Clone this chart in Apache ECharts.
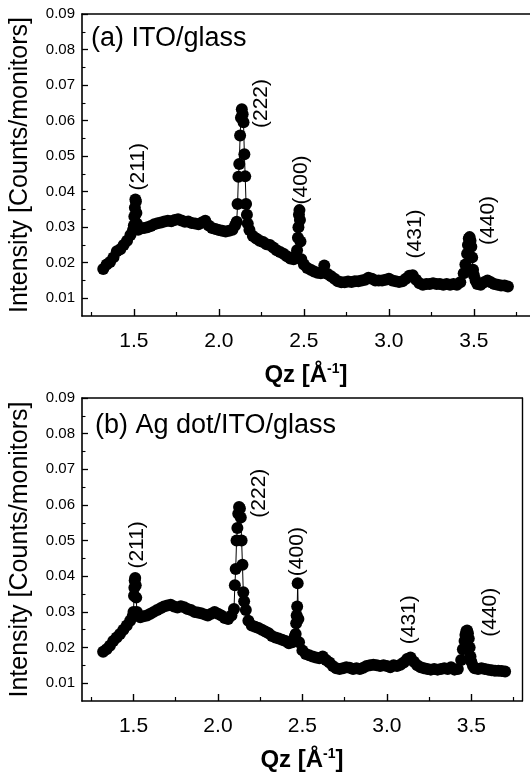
<!DOCTYPE html>
<html>
<head>
<meta charset="utf-8">
<script src="https://cdn.jsdelivr.net/npm/echarts@6/dist/echarts.min.js"></script>
<style>html,body{margin:0;padding:0;background:#fff}#c{width:530px;height:774px}</style>
</head>
<body>
<div id="c"></div>
<script>
// ---------- data: panel (a) ITO/glass ----------
const qzA = [1.32,1.34,1.36,1.38,1.40,1.42,1.44,1.46,1.48,1.495,
  1.50,1.503,1.506,1.509,1.512,1.515,1.518,1.525,
  1.54,1.56,1.58,1.60,1.62,1.64,1.66,1.68,1.70,1.72,1.74,1.76,1.78,1.80,1.82,1.84,1.86,1.88,1.90,1.92,1.94,1.96,1.98,2.00,2.02,2.04,2.06,2.08,2.095,2.105,
  2.11,2.115,2.12,2.125,2.13,2.135,2.14,2.145,2.15,2.155,2.16,2.165,2.17,
  2.18,2.20,2.22,2.24,2.26,2.28,2.30,2.32,2.34,2.36,2.38,2.40,2.42,2.44,2.455,
  2.46,2.465,2.468,2.471,2.474,2.477,2.48,2.485,
  2.50,2.52,2.54,2.56,2.58,2.60,2.62,2.64,2.66,2.68,2.70,2.72,2.74,2.76,2.78,2.80,2.82,2.84,2.86,2.88,2.90,2.92,2.94,2.96,2.98,3.00,3.02,3.04,3.06,3.08,3.10,3.12,3.14,3.16,3.18,3.20,3.22,3.24,3.26,3.28,3.30,3.32,3.34,3.36,3.38,3.40,3.42,3.44,
  3.45,3.46,3.465,3.47,3.475,3.48,3.485,3.49,3.495,3.50,3.51,3.52,3.54,3.56,3.58,3.60,3.62,3.64,3.66,3.68,3.70];
const intA = [0.0182,0.0195,0.0202,0.0215,0.0232,0.0238,0.0250,0.0262,0.0278,0.0292,
  0.0305,0.0330,0.0355,0.0378,0.0372,0.0340,0.0310,0.0293,
  0.0296,0.0298,0.0300,0.0303,0.0308,0.0311,0.0313,0.0316,0.0318,0.0317,0.0320,0.0322,0.0319,0.0315,0.0316,0.0312,0.0310,0.0308,0.0313,0.0318,0.0305,0.0298,0.0295,0.0292,0.0290,0.0288,0.0290,0.0293,0.0305,0.0315,
  0.0365,0.0442,0.0478,0.0558,0.0608,0.0632,0.0618,0.0595,0.0505,0.0443,0.0365,0.0335,0.0310,
  0.0292,0.0275,0.0268,0.0262,0.0258,0.0252,0.0250,0.0243,0.0235,0.0230,0.0225,0.0218,0.0212,0.0210,0.0222,
  0.0235,0.0270,0.0300,0.0335,0.0348,0.0320,0.0260,0.0210,
  0.0195,0.0185,0.0180,0.0175,0.0172,0.0170,0.0192,0.0168,0.0162,0.0155,0.0148,0.0145,0.0145,0.0147,0.0146,0.0148,0.0148,0.0150,0.0152,0.0158,0.0155,0.0150,0.0150,0.0150,0.0152,0.0155,0.0150,0.0148,0.0146,0.0148,0.0155,0.0163,0.0165,0.0152,0.0142,0.0138,0.0140,0.0140,0.0142,0.0140,0.0140,0.0138,0.0140,0.0138,0.0140,0.0138,0.0145,0.0170,
  0.0195,0.0225,0.0250,0.0268,0.0272,0.0262,0.0245,0.0215,0.0180,0.0165,0.0150,0.0140,0.0138,0.0145,0.0150,0.0145,0.0140,0.0138,0.0136,0.0136,0.0133];

// ---------- data: panel (b) Ag dot/ITO/glass ----------
const qzB = [1.32,1.34,1.36,1.38,1.40,1.42,1.44,1.46,1.48,1.495,
  1.50,1.503,1.505,1.507,1.51,1.513,1.516,1.52,
  1.54,1.56,1.58,1.60,1.62,1.64,1.66,1.68,1.70,1.72,1.74,1.76,1.78,1.80,1.82,1.84,1.86,1.88,1.90,1.92,1.94,1.96,1.98,2.00,2.02,2.04,2.06,2.08,2.095,
  2.10,2.105,2.11,2.115,2.12,2.125,2.13,2.135,2.14,2.145,2.15,2.155,2.165,
  2.18,2.20,2.22,2.24,2.26,2.28,2.30,2.32,2.34,2.36,2.38,2.40,2.42,2.44,2.455,
  2.46,2.463,2.466,2.469,2.472,2.476,2.48,
  2.50,2.52,2.54,2.56,2.58,2.60,2.62,2.64,2.66,2.68,2.70,2.72,2.74,2.76,2.78,2.80,2.82,2.84,2.86,2.88,2.90,2.92,2.94,2.96,2.98,3.00,3.02,3.04,3.06,3.08,3.10,3.12,3.14,3.16,3.18,3.20,3.22,3.24,3.26,3.28,3.30,3.32,3.34,3.36,3.38,3.40,3.42,3.44,
  3.45,3.46,3.465,3.47,3.475,3.48,3.485,3.49,3.495,3.50,3.51,3.52,3.54,3.56,3.58,3.60,3.62,3.64,3.66,3.68,3.70];
const intB = [0.0188,0.0195,0.0205,0.0218,0.0228,0.0238,0.0250,0.0262,0.0275,0.0288,
  0.0300,0.0345,0.0368,0.0388,0.0395,0.0375,0.0340,0.0300,
  0.0285,0.0288,0.0290,0.0295,0.0300,0.0305,0.0310,0.0315,0.0318,0.0320,0.0315,0.0312,0.0316,0.0313,0.0308,0.0305,0.0300,0.0298,0.0296,0.0293,0.0290,0.0295,0.0300,0.0295,0.0290,0.0283,0.0280,0.0290,0.0308,
  0.0375,0.0420,0.0500,0.0535,0.0575,0.0594,0.0590,0.0565,0.0500,0.0432,0.0355,0.0330,0.0305,
  0.0275,0.0262,0.0258,0.0255,0.0250,0.0245,0.0240,0.0232,0.0228,0.0225,0.0222,0.0218,0.0212,0.0215,0.0232,
  0.0238,0.0268,0.0290,0.0315,0.0380,0.0280,0.0215,
  0.0192,0.0182,0.0178,0.0175,0.0172,0.0170,0.0175,0.0165,0.0158,0.0148,0.0142,0.0140,0.0142,0.0145,0.0143,0.0140,0.0142,0.0140,0.0143,0.0148,0.0150,0.0152,0.0150,0.0148,0.0150,0.0148,0.0145,0.0150,0.0148,0.0152,0.0158,0.0168,0.0172,0.0160,0.0150,0.0145,0.0142,0.0140,0.0138,0.0140,0.0138,0.0140,0.0142,0.0140,0.0145,0.0138,0.0140,0.0165,
  0.0195,0.0218,0.0235,0.0245,0.0248,0.0240,0.0225,0.0200,0.0175,0.0160,0.0148,0.0142,0.0140,0.0142,0.0140,0.0138,0.0136,0.0135,0.0135,0.0134,0.0133];

// ---------- peak annotations ----------
const peakNames = ['(211)','(222)','(400)','(431)','(440)'];
const peakLabelQzA = [1.525, 2.251, 2.486, 3.153, 3.584];
const peakLabelIntA = [0.047, 0.0648, 0.0433, 0.0281, 0.0319];
const peakLabelQzB = [1.524, 2.242, 2.469, 3.134, 3.610];
const peakLabelIntB = [0.0488, 0.0633, 0.0469, 0.0278, 0.0299];

// ---------- ticks ----------
const xMajor = [1.5, 2.0, 2.5, 3.0, 3.5];
const xMinor = [1.25, 1.75, 2.25, 2.75, 3.25, 3.75];
const yMajor = [0.01, 0.02, 0.03, 0.04, 0.05, 0.06, 0.07, 0.08, 0.09];
const yMinor = [0.015, 0.025, 0.035, 0.045, 0.055, 0.065, 0.075, 0.085];

const FONT = "'Liberation Sans', Arial, sans-serif";
const BLK = '#000';

function pairs(xs, ys) { return xs.map((x, i) => [x, ys[i]]); }

function xMain(grid, min, max) {
  return {
    type: 'value', gridIndex: grid, min: min, max: max, position: 'bottom',
    axisLine: { show: true, onZero: false, lineStyle: { color: BLK, width: 1.6 } },
    axisTick: { show: true, inside: true, length: 7, customValues: xMajor, lineStyle: { color: BLK, width: 1.4 } },
    axisLabel: { show: true, customValues: xMajor, margin: 15, fontSize: 21, color: BLK, fontFamily: FONT,
      formatter: v => v.toFixed(1) },
    splitLine: { show: false },
    name: '{t|Qz [Å}{s|-1}{t|]}', nameLocation: 'middle', nameGap: 46,
    nameTextStyle: { rich: {
      t: { fontSize: 24, fontWeight: 'bold', fontFamily: FONT, color: BLK, lineHeight: 27 },
      s: { fontSize: 14, fontWeight: 'bold', fontFamily: FONT, color: BLK, verticalAlign: 'top', lineHeight: 14 }
    } }
  };
}
function xMinorAx(grid, min, max) {
  return {
    type: 'value', gridIndex: grid, min: min, max: max, position: 'bottom',
    axisLine: { show: false },
    axisTick: { show: true, inside: true, length: 4, customValues: xMinor, lineStyle: { color: BLK, width: 1.2 } },
    axisLabel: { show: false }, splitLine: { show: false }
  };
}
function xTop(grid, min, max) {
  return {
    type: 'value', gridIndex: grid, min: min, max: max, position: 'top',
    axisLine: { show: true, onZero: false, lineStyle: { color: BLK, width: 1.6 } },
    axisTick: { show: false }, axisLabel: { show: false }, splitLine: { show: false }
  };
}
function yMain(grid) {
  return {
    type: 'value', gridIndex: grid, min: 0.005, max: 0.09, position: 'left',
    axisLine: { show: true, onZero: false, lineStyle: { color: BLK, width: 1.6 } },
    axisTick: { show: true, inside: true, length: 6, customValues: yMajor, lineStyle: { color: BLK, width: 1.3 } },
    axisLabel: { show: true, customValues: yMajor, margin: 7, fontSize: 15, color: BLK, fontFamily: FONT,
      formatter: v => v.toFixed(2) },
    splitLine: { show: false },
    name: 'Intensity [Counts/monitors]', nameLocation: 'middle', nameRotate: 90, nameGap: 49,
    nameTextStyle: { fontSize: 25, fontFamily: FONT, color: BLK }
  };
}
function yMinorAx(grid) {
  return {
    type: 'value', gridIndex: grid, min: 0.005, max: 0.09, position: 'left',
    axisLine: { show: false },
    axisTick: { show: true, inside: true, length: 3.5, customValues: yMinor, lineStyle: { color: BLK, width: 1.1 } },
    axisLabel: { show: false }, splitLine: { show: false }
  };
}
function yRight(grid) {
  return {
    type: 'value', gridIndex: grid, min: 0.005, max: 0.09, position: 'right',
    axisLine: { show: true, onZero: false, lineStyle: { color: BLK, width: 1.4 } },
    axisTick: { show: false }, axisLabel: { show: false }, splitLine: { show: false }
  };
}
function dataSeries(xi, yi, xs, ys) {
  return {
    type: 'line', xAxisIndex: xi, yAxisIndex: yi, data: pairs(xs, ys),
    symbol: 'circle', symbolSize: 12, showSymbol: true, showAllSymbol: true,
    lineStyle: { color: BLK, width: 1 }, itemStyle: { color: BLK, borderWidth: 0 },
    emphasis: { disabled: true }, silent: true, z: 3
  };
}
function labelSeries(xi, yi, xs, ys) {
  return {
    type: 'scatter', xAxisIndex: xi, yAxisIndex: yi,
    data: xs.map((x, i) => ({ value: [x, ys[i]], name: peakNames[i] })),
    symbolSize: 0, itemStyle: { color: BLK, opacity: 1 }, silent: true, z: 4,
    emphasis: { disabled: true },
    label: { show: true, position: 'inside', rotate: 90, formatter: p => p.name,
      fontSize: 21, color: BLK, opacity: 1, textBorderWidth: 0, fontFamily: FONT }
  };
}

const chart = echarts.init(document.getElementById('c'), null, { renderer: 'canvas' });
chart.setOption({
  animation: false,
  backgroundColor: '#fff',
  grid: [
    { left: 82, top: 14, width: 448, height: 302 },
    { left: 81, top: 398, width: 441, height: 303 }
  ],
  xAxis: [
    xMain(0, 1.195, 3.83), xMinorAx(0, 1.195, 3.83), xTop(0, 1.195, 3.83),
    xMain(1, 1.195, 3.8), xMinorAx(1, 1.195, 3.8), xTop(1, 1.195, 3.8)
  ],
  yAxis: [
    yMain(0), yMinorAx(0),
    yMain(1), yMinorAx(1), yRight(1)
  ],
  graphic: [
    { type: 'text', left: 91, top: 25, style: { text: '(a) ITO/glass', fontSize: 27, fontFamily: FONT, fill: BLK } },
    { type: 'text', left: 95, top: 412, style: { text: '(b) Ag dot/ITO/glass', fontSize: 27, fontFamily: FONT, fill: BLK } }
  ],
  series: [
    dataSeries(0, 0, qzA, intA),
    labelSeries(0, 0, peakLabelQzA, peakLabelIntA),
    dataSeries(3, 2, qzB, intB),
    labelSeries(3, 2, peakLabelQzB, peakLabelIntB)
  ]
});
</script>
</body>
</html>
